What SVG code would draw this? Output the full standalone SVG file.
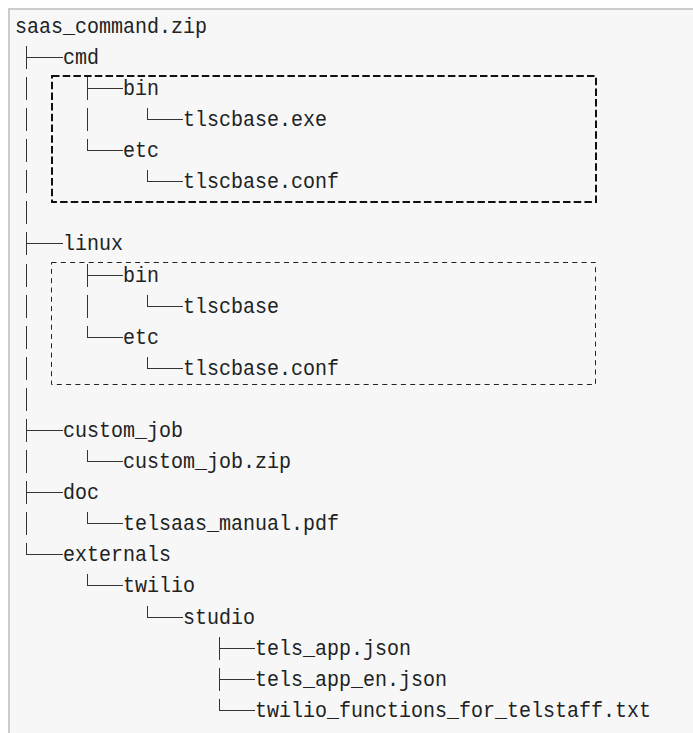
<svg xmlns="http://www.w3.org/2000/svg" width="693" height="733" viewBox="0 0 693 733">
<style>
text{font-family:"Liberation Mono","DejaVu Sans Mono",monospace;font-size:22px;fill:#222}
.conn{fill:none;stroke:#333;stroke-width:1}
.box1{fill:none;stroke:#111;stroke-width:2;stroke-dasharray:7.5 3.2}
.box2{fill:none;stroke:#222;stroke-width:1;stroke-dasharray:5 4.3}
</style>
<rect x="0" y="0" width="693" height="733" fill="#fff"/>
<rect x="8" y="8" width="700" height="740" fill="#ccc"/>
<rect x="10" y="10" width="700" height="740" fill="#f7f7f7"/>
<g id="groups">
<rect id="cmd-box" class="box1" x="52" y="76" width="544" height="126"/>
<rect id="linux-box" class="box2" x="51.5" y="262.5" width="544" height="122"/>
</g>
<g id="connectors">
<path class="conn" d="M26.5 46V69M27 57.5H63
M26.5 77V100M87.5 77V100M88 88.5H123
M26.5 108V131M87.5 108V131M147.5 108V120M147 119.5H183
M26.5 139V162M87.5 139V151M87 150.5H123
M26.5 170V193M147.5 170V182M147 181.5H183
M26.5 201V224
M26.5 232V255M27 243.5H63
M26.5 264V287M87.5 264V287M88 275.5H123
M26.5 295V318M87.5 295V318M147.5 295V307M147 306.5H183
M26.5 326V349M87.5 326V338M87 337.5H123
M26.5 357V380M147.5 357V369M147 368.5H183
M26.5 388V411
M26.5 419V442M27 430.5H63
M26.5 450V473M87.5 450V462M87 461.5H123
M26.5 481V504M27 492.5H63
M26.5 512V535M87.5 512V524M87 523.5H123
M26.5 543V555M26 554.5H63
M87.5 574V586M87 585.5H123
M147.5 606V618M147 617.5H183
M219.5 637V660M220 648.5H255
M219.5 668V691M220 679.5H255
M219.5 699V711M219 710.5H255"/>
</g>
<g id="n-root"><text x="15" y="33" textLength="192" lengthAdjust="spacingAndGlyphs">saas_command.zip</text></g>
<g id="n-cmd"><text x="63" y="64" textLength="36" lengthAdjust="spacingAndGlyphs">cmd</text></g>
<g id="n-cmd-bin"><text x="123" y="95" textLength="36" lengthAdjust="spacingAndGlyphs">bin</text></g>
<g id="n-cmd-bin-exe"><text x="183" y="126" textLength="144" lengthAdjust="spacingAndGlyphs">tlscbase.exe</text></g>
<g id="n-cmd-etc"><text x="123" y="157" textLength="36" lengthAdjust="spacingAndGlyphs">etc</text></g>
<g id="n-cmd-etc-conf"><text x="183" y="188" textLength="156" lengthAdjust="spacingAndGlyphs">tlscbase.conf</text></g>
<g id="n-linux"><text x="63" y="250" textLength="60" lengthAdjust="spacingAndGlyphs">linux</text></g>
<g id="n-linux-bin"><text x="123" y="282" textLength="36" lengthAdjust="spacingAndGlyphs">bin</text></g>
<g id="n-linux-bin-exe"><text x="183" y="313" textLength="96" lengthAdjust="spacingAndGlyphs">tlscbase</text></g>
<g id="n-linux-etc"><text x="123" y="344" textLength="36" lengthAdjust="spacingAndGlyphs">etc</text></g>
<g id="n-linux-etc-conf"><text x="183" y="375" textLength="156" lengthAdjust="spacingAndGlyphs">tlscbase.conf</text></g>
<g id="n-custom-job"><text x="63" y="437" textLength="120" lengthAdjust="spacingAndGlyphs">custom_job</text></g>
<g id="n-custom-job-zip"><text x="123" y="468" textLength="168" lengthAdjust="spacingAndGlyphs">custom_job.zip</text></g>
<g id="n-doc"><text x="63" y="499" textLength="36" lengthAdjust="spacingAndGlyphs">doc</text></g>
<g id="n-doc-pdf"><text x="123" y="530" textLength="216" lengthAdjust="spacingAndGlyphs">telsaas_manual.pdf</text></g>
<g id="n-externals"><text x="63" y="561" textLength="108" lengthAdjust="spacingAndGlyphs">externals</text></g>
<g id="n-twilio"><text x="123" y="592" textLength="72" lengthAdjust="spacingAndGlyphs">twilio</text></g>
<g id="n-studio"><text x="183" y="624" textLength="72" lengthAdjust="spacingAndGlyphs">studio</text></g>
<g id="n-tels-app"><text x="255" y="655" textLength="156" lengthAdjust="spacingAndGlyphs">tels_app.json</text></g>
<g id="n-tels-app-en"><text x="255" y="686" textLength="192" lengthAdjust="spacingAndGlyphs">tels_app_en.json</text></g>
<g id="n-functions"><text x="255" y="717" textLength="396" lengthAdjust="spacingAndGlyphs">twilio_functions_for_telstaff.txt</text></g>
</svg>
